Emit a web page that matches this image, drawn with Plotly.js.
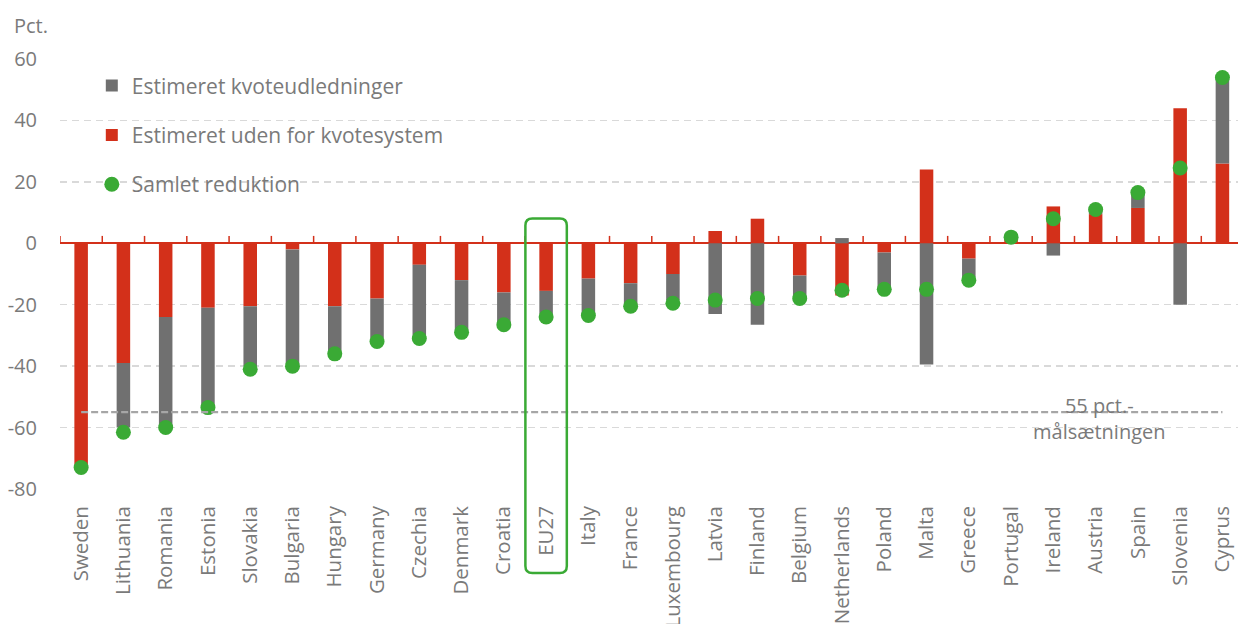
<!DOCTYPE html>
<html>
<head>
<meta charset="utf-8">
<script src="https://cdn.plot.ly/plotly-3.0.1.min.js"></script>
<style>html,body{margin:0;padding:0;background:#fff;}#chart{width:1238px;height:624px;}</style>
</head>
<body>
<div id="chart"></div>
<script>
const countries = ["Sweden","Lithuania","Romania","Estonia","Slovakia","Bulgaria","Hungary","Germany","Czechia","Denmark","Croatia","EU27","Italy","France","Luxembourg","Latvia","Finland","Belgium","Netherlands","Poland","Malta","Greece","Portugal","Ireland","Austria","Spain","Slovenia","Cyprus"];
const outsideETS = [-72,-39,-24,-21,-20.5,-2,-20.5,-18,-7,-12,-16,-15.5,-11.5,-13,-10,4,8,-10.5,-17,-3,24,-5,2,12,9.5,11.5,44,26];
const ets = [-1,-21,-35.5,-32,-19.5,-37.5,-14.5,-13,-23,-16.5,-10,-7.5,-11.5,-7,-8.5,-23,-26.5,-7,1.7,-12,-39.5,-6,0,-4,1.5,4.5,-20,27.5];
const totalReduction = [-73,-61.5,-60,-53.5,-41,-40,-36,-32,-31,-29,-26.5,-24,-23.5,-20.5,-19.5,-18.5,-18,-18,-15.3,-15,-15,-12,2,8,11,16.5,24.5,54];
const target = -55;
const highlight = "EU27";
const yTicks = [60,40,20,0,-20,-40,-60,-80];
const yTickText = yTicks.map(v => String(v));

const RED = "#d3301a", GREY = "#707070", GREEN = "#3aaa35", TXT = "#7a7a7a";
const W = 1238, H = 624, ML = 60, MR = 0, MT = 59, MB = 135;
const PW = W - ML - MR, PH = H - MT - MB;
const catPx = 42.27;
const xRange = [-0.5, -0.5 + PW / catPx];
const yRange = [-80, 60];

const traces = [
  {type:"bar", name:"Estimeret uden for kvotesystem", x:countries, y:outsideETS, width:0.32,
   marker:{color:RED}, legendrank:2, legendgroup:"b"},
  {type:"bar", name:"Estimeret kvoteudledninger", x:countries, y:ets, width:0.32,
   marker:{color:GREY}, legendrank:1, legendgroup:"a"},
  {type:"scatter", mode:"markers", name:"Samlet reduktion", x:countries, y:totalReduction,
   marker:{color:GREEN, size:15}, cliponaxis:false, legendrank:3, legendgroup:"c"}
];

const shapes = [];
for (let i = 0; i <= countries.length; i++) {
  shapes.push({type:"line", xref:"x", yref:"y", x0:i-0.5, x1:i-0.5, y0:0, y1:2.4,
    line:{color:RED, width:1.5}, layer:"above"});
}
shapes.push({type:"line", xref:"x", yref:"y", x0:0, x1:countries.length-1, y0:target, y1:target,
  line:{color:"#a6a6a6", width:2.2, dash:"7px,3px"}, layer:"above"});
const hi = countries.indexOf(highlight);
const xp = v => (v - xRange[0]) / (xRange[1] - xRange[0]);
const yp = v => (v - yRange[0]) / (yRange[1] - yRange[0]);
const bx0 = xp(hi - 0.49), bx1 = xp(hi + 0.49);
const by1 = yp(8.1), by0 = -84 / PH;
const rx = 7 / PW, ry = 7 / PH;
shapes.push({type:"path", xref:"paper", yref:"paper", layer:"above",
  line:{color:GREEN, width:2.5},
  path:`M ${bx0+rx},${by1} L ${bx1-rx},${by1} Q ${bx1},${by1} ${bx1},${by1-ry} L ${bx1},${by0+ry} Q ${bx1},${by0} ${bx1-rx},${by0} L ${bx0+rx},${by0} Q ${bx0},${by0} ${bx0},${by0+ry} L ${bx0},${by1-ry} Q ${bx0},${by1} ${bx0+rx},${by1} Z`});

const layout = {
  width:W, height:H,
  margin:{l:ML, r:MR, t:MT, b:MB, pad:0},
  paper_bgcolor:"#fff", plot_bgcolor:"#fff",
  font:{family:"Open Sans, sans-serif", color:TXT, size:20},
  barmode:"relative",
  showlegend:true,
  legend:{x:0.027, y:0.985, xanchor:"left", yanchor:"top", bgcolor:"rgba(0,0,0,0)",
    font:{size:21, color:TXT}, traceorder:"grouped", tracegroupgap:19},
  xaxis:{type:"category", range:xRange, tickangle:-90, showgrid:false, showline:false,
    ticks:"", zeroline:false, tickfont:{size:20.5, color:TXT}, ticklabelstandoff:12},
  yaxis:{range:yRange, tickmode:"array", tickvals:yTicks, ticktext:yTickText, ticks:"", showline:false,
    gridcolor:"#d9d9d9", gridwidth:1.5, griddash:"7px,5px",
    zeroline:true, zerolinecolor:RED, zerolinewidth:2,
    tickfont:{size:20, color:TXT}, ticklabelstandoff:22},
  shapes:shapes,
  annotations:[
    {text:"Pct.", xref:"paper", yref:"paper", x:(12-ML)/PW, y:(H-MB-26)/PH, xanchor:"left", yanchor:"middle",
     showarrow:false, font:{size:20, color:TXT}},
    {text:"55 pct.-<br>målsætningen", xref:"x", yref:"y", x:24.1, y:target-1.9, xanchor:"center", yanchor:"middle",
     showarrow:false, font:{size:20, color:TXT}}
  ]
};

Plotly.newPlot("chart", traces, layout, {displayModeBar:false, staticPlot:true});
</script>
</body>
</html>
